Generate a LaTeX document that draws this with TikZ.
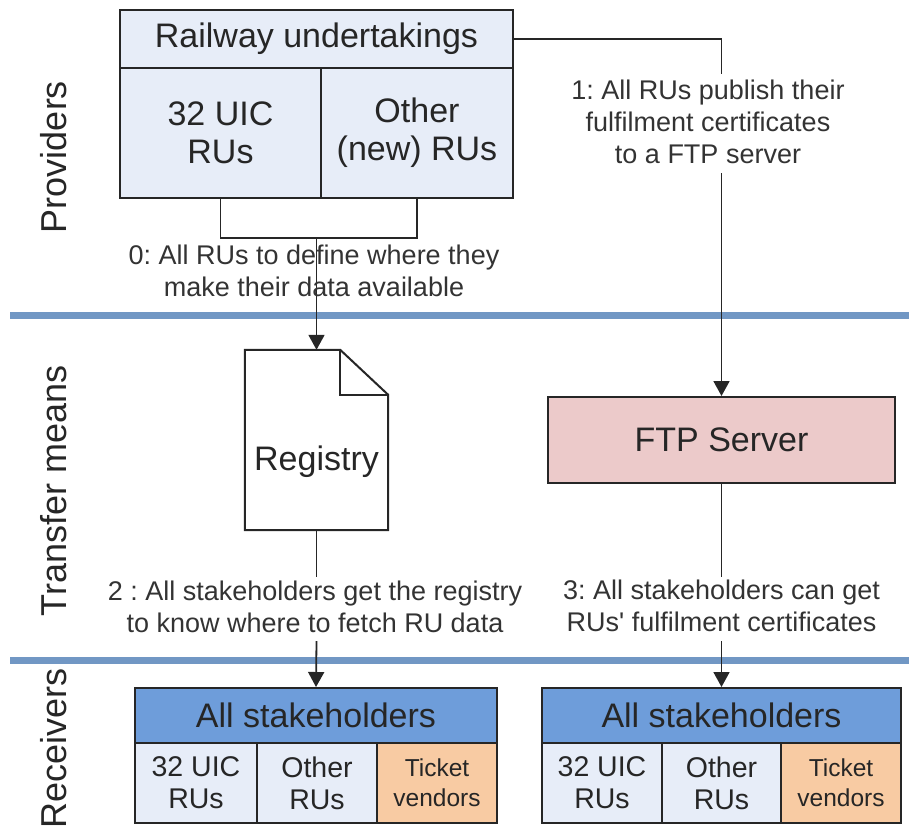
\documentclass[tikz,border=0pt]{standalone}
\usepackage{fontspec}
\setmainfont{Liberation Sans}
\usetikzlibrary{arrows.meta}
\definecolor{paleblue}{HTML}{E7EDF8}
\definecolor{headblue}{HTML}{6E9DDA}
\definecolor{serverpink}{HTML}{ECCACA}
\definecolor{peach}{HTML}{F8CBA3}
\definecolor{lanecol}{HTML}{7197C4}
\definecolor{inkgray}{HTML}{262626}
\definecolor{labelgray}{HTML}{333333}
\frenchspacing
\begin{document}
\begin{tikzpicture}[x=1pt,y=-1pt,
  box/.style={draw=inkgray, line width=2pt, inner sep=0pt, align=center, text=inkgray},
  bigtext/.style={font=\fontsize{34}{38}\selectfont},
  celltext/.style={font=\fontsize{28.5}{32}\selectfont},
  smalltext/.style={font=\fontsize{24.5}{30}\selectfont},
  steplabel/.style={font=\fontsize{27}{32}\selectfont, text=labelgray, align=center, inner sep=0pt},
  sidelabel/.style={font=\fontsize{36}{40}\selectfont, text=inkgray, rotate=90, inner sep=0pt},
  conn/.style={draw=inkgray, line width=1.8pt},
  arr/.style={conn, -{Triangle[width=16pt,length=15pt]}},
  lane/.style={draw=lanecol, line width=7pt}
]
\useasboundingbox (0,0) rectangle (909,828);

% swimlane separators
\coordinate (laneAl) at (10,315);  \coordinate (laneAr) at (909,315);
\coordinate (laneBl) at (10,660);  \coordinate (laneBr) at (909,660);
\draw[lane] (laneAl) -- (laneAr);
\draw[lane] (laneBl) -- (laneBr);

% lane titles
\node[sidelabel] (prov) at (54,157) {Providers};
\node[sidelabel] (trans) at (54,491) {Transfer means};
\node[sidelabel] (recv) at (54,748) {Receivers};

% providers: railway undertakings
\node[box, bigtext, fill=paleblue, minimum width=393pt, minimum height=58pt] (hdr) at (316.5,39) {Railway undertakings};
\node[box, bigtext, fill=paleblue, minimum width=201pt, minimum height=130pt] (uic) at (220.5,133) {32 UIC\\RUs};
\node[box, bigtext, fill=paleblue, minimum width=192pt, minimum height=130pt] (newru) at (417,133) {Other\\(new) RUs};

% transfer means: the registry document with a folded corner
\node[minimum width=143pt, minimum height=180pt, inner sep=0pt] (reg) at (316.5,440) {};
\draw[inkgray, line width=2pt, fill=white, line join=miter]
  (reg.north west) -- ([xshift=-48pt]reg.north east) -- ([yshift=-45pt]reg.north east)
  -- (reg.south east) -- (reg.south west) -- cycle;
\draw[inkgray, line width=2pt, line join=miter]
  ([xshift=-48pt]reg.north east) -- ([xshift=-48pt,yshift=-45pt]reg.north east) -- ([yshift=-45pt]reg.north east);
\node[text=inkgray, bigtext, inner sep=0pt] (regtext) at (316.5,462) {Registry};

\node[box, bigtext, fill=serverpink, minimum width=347pt, minimum height=86pt] (ftp) at (721.5,440) {FTP Server};

% receivers, left group
\node[box, bigtext, fill=headblue, minimum width=362pt, minimum height=55pt] (shA) at (316,715.5) {All stakeholders};
\node[box, celltext, fill=paleblue, minimum width=122pt, minimum height=80pt] (shAuic) at (196,783) {32 UIC\\RUs};
\node[box, celltext, fill=paleblue, minimum width=120pt, minimum height=80pt] (shAoth) at (317,783) {Other\\RUs};
\node[box, smalltext, fill=peach, minimum width=120pt, minimum height=80pt] (shAtix) at (437,783) {Ticket\\vendors};

% receivers, right group
\node[box, bigtext, fill=headblue, minimum width=359pt, minimum height=55pt] (shB) at (721.5,715.5) {All stakeholders};
\node[box, celltext, fill=paleblue, minimum width=120pt, minimum height=80pt] (shBuic) at (602,783) {32 UIC\\RUs};
\node[box, celltext, fill=paleblue, minimum width=119pt, minimum height=80pt] (shBoth) at (721.5,783) {Other\\RUs};
\node[box, smalltext, fill=peach, minimum width=120pt, minimum height=80pt] (shBtix) at (841,783) {Ticket\\vendors};

% step 0: providers define where data lives
\coordinate (join) at (316.5,238);
\draw[conn] (uic.south) |- (join) -| (newru.south);
\draw[arr] (join) -- (reg.north);
\node[steplabel] (s0) at (314,271) {0: All RUs to define where they\\make their data available};

% step 1: publish to the FTP server
\coordinate (s1top) at (721.5,74);
\coordinate (s1bot) at (721.5,173);
\draw[conn] (hdr.east) -| (s1top);
\draw[arr] (s1bot) -- (ftp.north);
\node[steplabel] (s1) at (708,122) {1: All RUs publish their\\fulfilment certificates\\to a FTP server};

% step 2: fetch the registry
\coordinate (s2top) at (316.5,577);
\coordinate (s2bot) at (316.5,641);
\draw[conn] (reg.south) -- (s2top);
\draw[arr] (s2bot) -- (shA.north);
\node[steplabel] (s2) at (315,607) {2 : All stakeholders get the registry\\to know where to fetch RU data};

% step 3: fetch certificates
\coordinate (s3top) at (721.5,577);
\coordinate (s3bot) at (721.5,641);
\draw[conn] (ftp.south) -- (s3top);
\draw[arr] (s3bot) -- (shB.north);
\node[steplabel] (s3) at (721.5,606) {3: All stakeholders can get\\RUs\textquotesingle{} fulfilment certificates};
\end{tikzpicture}
\end{document}
